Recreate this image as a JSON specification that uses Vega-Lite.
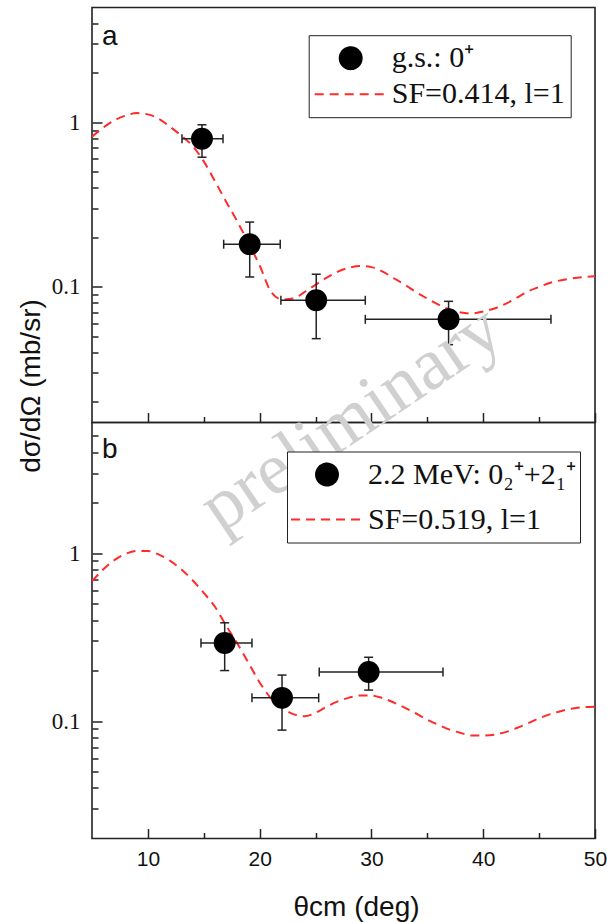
{
  "$schema": "https://vega.github.io/schema/vega-lite/v6.json",
  "padding": {"left": 16, "top": 6.5, "right": 4, "bottom": 0},
  "background": "white",
  "spacing": 0,
  "bounds": "flush",
  "resolve": {"scale": {"color": "independent", "shape": "independent", "size": "independent", "strokeDash": "independent"}},
  "config": {
    "view": {"stroke": "#222", "strokeWidth": 1.6},
    "axis": {"domain": false, "grid": false, "tickColor": "#222", "tickWidth": 1.5, "labelFlush": false, "labelOverlap": false},
    "concat": {"spacing": 0}
  },
  "datasets": {
    "curveA": [
      {"x": 5, "y": 0.82}, {"x": 6, "y": 0.93}, {"x": 7, "y": 1.03}, {"x": 8, "y": 1.10}, {"x": 9, "y": 1.14},
      {"x": 10, "y": 1.12}, {"x": 11, "y": 1.05}, {"x": 12, "y": 0.94}, {"x": 13, "y": 0.83}, {"x": 14, "y": 0.72},
      {"x": 15, "y": 0.58}, {"x": 16, "y": 0.44}, {"x": 17, "y": 0.33}, {"x": 18, "y": 0.25}, {"x": 19, "y": 0.185},
      {"x": 20, "y": 0.135}, {"x": 21, "y": 0.094}, {"x": 22, "y": 0.084}, {"x": 23, "y": 0.085}, {"x": 24, "y": 0.093},
      {"x": 25, "y": 0.103}, {"x": 26, "y": 0.114}, {"x": 27, "y": 0.124}, {"x": 28, "y": 0.131}, {"x": 29, "y": 0.134},
      {"x": 30, "y": 0.132}, {"x": 31, "y": 0.124}, {"x": 32, "y": 0.113}, {"x": 33, "y": 0.103}, {"x": 34, "y": 0.093},
      {"x": 35, "y": 0.085}, {"x": 36, "y": 0.078}, {"x": 37, "y": 0.073}, {"x": 38, "y": 0.070}, {"x": 39, "y": 0.069},
      {"x": 40, "y": 0.071}, {"x": 41, "y": 0.074}, {"x": 42, "y": 0.079}, {"x": 43, "y": 0.086}, {"x": 44, "y": 0.094},
      {"x": 45, "y": 0.100}, {"x": 46, "y": 0.106}, {"x": 47, "y": 0.110}, {"x": 48, "y": 0.113}, {"x": 49, "y": 0.115},
      {"x": 50, "y": 0.116}
    ],
    "ptsA": [
      {"x": 14.84, "y": 0.796, "xlo": 13.05, "xhi": 16.72, "ylo": 0.615, "yhi": 0.968},
      {"x": 19.11, "y": 0.182, "xlo": 16.78, "xhi": 21.84, "ylo": 0.115, "yhi": 0.248},
      {"x": 25.06, "y": 0.083, "xlo": 21.9, "xhi": 29.45, "ylo": 0.0485, "yhi": 0.1195},
      {"x": 36.9, "y": 0.0636, "xlo": 29.45, "xhi": 46.06, "ylo": 0.0446, "yhi": 0.0818}
    ],
    "curveB": [
      {"x": 5, "y": 0.68}, {"x": 6, "y": 0.80}, {"x": 7, "y": 0.91}, {"x": 8, "y": 0.99}, {"x": 9, "y": 1.03},
      {"x": 10, "y": 1.03}, {"x": 11, "y": 0.98}, {"x": 12, "y": 0.90}, {"x": 13, "y": 0.80}, {"x": 14, "y": 0.69},
      {"x": 15, "y": 0.58}, {"x": 16, "y": 0.48}, {"x": 17, "y": 0.37}, {"x": 18, "y": 0.29}, {"x": 19, "y": 0.222},
      {"x": 20, "y": 0.17}, {"x": 21, "y": 0.137}, {"x": 22, "y": 0.12}, {"x": 23, "y": 0.110}, {"x": 24, "y": 0.107},
      {"x": 25, "y": 0.112}, {"x": 26, "y": 0.122}, {"x": 27, "y": 0.131}, {"x": 28, "y": 0.138}, {"x": 29, "y": 0.142},
      {"x": 30, "y": 0.142}, {"x": 31, "y": 0.137}, {"x": 32, "y": 0.129}, {"x": 33, "y": 0.12}, {"x": 34, "y": 0.111},
      {"x": 35, "y": 0.102}, {"x": 36, "y": 0.095}, {"x": 37, "y": 0.089}, {"x": 38, "y": 0.085}, {"x": 39, "y": 0.082},
      {"x": 40, "y": 0.082}, {"x": 41, "y": 0.083}, {"x": 42, "y": 0.086}, {"x": 43, "y": 0.091}, {"x": 44, "y": 0.097},
      {"x": 45, "y": 0.104}, {"x": 46, "y": 0.110}, {"x": 47, "y": 0.115}, {"x": 48, "y": 0.119}, {"x": 49, "y": 0.121},
      {"x": 50, "y": 0.122}
    ],
    "ptsB": [
      {"x": 16.87, "y": 0.292, "xlo": 14.75, "xhi": 19.31, "ylo": 0.2, "yhi": 0.385},
      {"x": 22.0, "y": 0.1376, "xlo": 19.31, "xhi": 25.28, "ylo": 0.0884, "yhi": 0.188},
      {"x": 29.75, "y": 0.196, "xlo": 25.33, "xhi": 36.4, "ylo": 0.153, "yhi": 0.240}
    ]
  },
  "vconcat": [
    {
      "width": 503,
      "height": 415,
      "resolve": {"axis": {"x": "independent", "y": "independent"}},
      "layer": [
        {
          "data": {"name": "curveA"},
          "mark": {"type": "line", "strokeWidth": 2, "interpolate": "monotone"},
          "encoding": {
            "x": {"field": "x", "type": "quantitative", "scale": {"domain": [5, 50], "nice": false, "zero": false},
              "axis": {"orient": "bottom", "values": [10, 20, 30, 40, 50], "labels": false, "tickSize": -10, "title": null}},
            "y": {"field": "y", "type": "quantitative", "scale": {"type": "log", "domain": [0.015, 5], "nice": false},
              "axis": {"orient": "left", "values": [0.1, 1], "format": "~g", "tickSize": -10, "labelPadding": 22,
                "labelFont": "Liberation Serif", "labelFontSize": 23, "labelColor": "#111",
                "title": "dσ/dΩ (mb/sr)", "titleX": -61, "titleY": 378, "titleAngle": -90, "titleAlign": "center",
                "titleBaseline": "middle", "titleFont": "Liberation Sans", "titleFontSize": 28, "titleFontWeight": "normal", "titleColor": "#111"}},
            "color": {"datum": "SF=0.414, l=1", "type": "nominal",
              "scale": {"domain": ["g.s.: 0⁺", "SF=0.414, l=1"], "range": ["black", "#ff2a2a"]},
              "legend": {"orient": "none", "legendX": 216.7, "legendY": 27.7, "title": null,
                "symbolStrokeWidth": 2,
                "labelFont": "Liberation Serif", "labelFontSize": 30, "labelColor": "#111", "labelLimit": 400, "labelOffset": 4,
                "strokeColor": "#222", "fillColor": "white", "padding": 5, "clipHeight": 36, "rowPadding": 0}},
            "strokeDash": {"datum": "SF=0.414, l=1", "type": "nominal",
              "scale": {"domain": ["g.s.: 0⁺", "SF=0.414, l=1"], "range": [[1, 0], [9, 6]]}, "legend": {"title": null}}
          }
        },
        {
          "data": {"name": "ptsA"},
          "mark": {"type": "rule", "strokeWidth": 1.5, "color": "#222"},
          "encoding": {
            "x": {"field": "xlo", "type": "quantitative", "axis": null},
            "x2": {"field": "xhi"},
            "y": {"field": "y", "type": "quantitative", "axis": null}
          }
        },
        {
          "data": {"name": "ptsA"},
          "mark": {"type": "rule", "strokeWidth": 1.5, "color": "#222"},
          "encoding": {
            "x": {"field": "x", "type": "quantitative", "axis": null},
            "y": {"field": "ylo", "type": "quantitative", "axis": null},
            "y2": {"field": "yhi"}
          }
        },
        {
          "data": {"name": "ptsA"},
          "mark": {"type": "point", "shape": "M0,-1L0,1", "size": 81, "filled": false, "strokeWidth": 1.5, "color": "#222", "opacity": 1},
          "encoding": {
            "x": {"field": "xlo", "type": "quantitative", "axis": null},
            "y": {"field": "y", "type": "quantitative", "axis": null}
          }
        },
        {
          "data": {"name": "ptsA"},
          "mark": {"type": "point", "shape": "M0,-1L0,1", "size": 81, "filled": false, "strokeWidth": 1.5, "color": "#222", "opacity": 1},
          "encoding": {
            "x": {"field": "xhi", "type": "quantitative", "axis": null},
            "y": {"field": "y", "type": "quantitative", "axis": null}
          }
        },
        {
          "data": {"name": "ptsA"},
          "mark": {"type": "point", "shape": "M-1,0L1,0", "size": 81, "filled": false, "strokeWidth": 1.5, "color": "#222", "opacity": 1},
          "encoding": {
            "x": {"field": "x", "type": "quantitative", "axis": null},
            "y": {"field": "ylo", "type": "quantitative", "axis": null}
          }
        },
        {
          "data": {"name": "ptsA"},
          "mark": {"type": "point", "shape": "M-1,0L1,0", "size": 81, "filled": false, "strokeWidth": 1.5, "color": "#222", "opacity": 1},
          "encoding": {
            "x": {"field": "x", "type": "quantitative", "axis": null},
            "y": {"field": "yhi", "type": "quantitative", "axis": null}
          }
        },
        {
          "data": {"name": "ptsA"},
          "mark": {"type": "point", "filled": true, "opacity": 1},
          "encoding": {
            "x": {"field": "x", "type": "quantitative",
              "axis": {"orient": "bottom", "values": [15, 25, 35, 45], "labels": false, "tickSize": -6, "title": null}},
            "y": {"field": "y", "type": "quantitative",
              "axis": {"orient": "left", "values": [0.02, 0.03, 0.04, 0.05, 0.06, 0.07, 0.08, 0.09, 0.2, 0.3, 0.4, 0.5, 0.6, 0.7, 0.8, 0.9, 2, 3, 4], "labels": false, "tickSize": -6, "title": null}},
            "color": {"datum": "g.s.: 0⁺", "type": "nominal"},
            "shape": {"datum": "g.s.: 0⁺", "type": "nominal",
              "scale": {"domain": ["g.s.: 0⁺", "SF=0.414, l=1"], "range": ["circle", "stroke"]}, "legend": {"title": null}},
            "size": {"datum": "g.s.: 0⁺", "type": "nominal",
              "scale": {"domain": ["g.s.: 0⁺", "SF=0.414, l=1"], "range": [480, 5184]}, "legend": {"title": null}},
            "strokeDash": {"datum": "g.s.: 0⁺", "type": "nominal"}
          }
        },
        {
          "data": {"values": [{"label": "a"}]},
          "mark": {"type": "text", "font": "Liberation Sans", "fontSize": 28, "align": "left", "baseline": "middle", "color": "#111"},
          "encoding": {
            "x": {"datum": 5.9, "type": "quantitative", "axis": null},
            "y": {"datum": 3.3, "type": "quantitative", "axis": null},
            "text": {"field": "label"}
          }
        }
      ]
    },
    {
      "width": 503,
      "height": 416,
      "resolve": {"axis": {"x": "independent", "y": "independent"}},
      "layer": [
        {
          "data": {"values": [{"label": "preliminary"}]},
          "mark": {"type": "text", "font": "Liberation Serif", "fontSize": 74, "align": "center", "baseline": "middle", "angle": -34, "color": "#d0d0d0"},
          "encoding": {
            "x": {"datum": 28.2, "type": "quantitative", "axis": null},
            "y": {"datum": 6.3, "type": "quantitative", "axis": null},
            "text": {"field": "label"}
          }
        },
        {
          "data": {"name": "curveB"},
          "mark": {"type": "line", "strokeWidth": 2, "interpolate": "monotone"},
          "encoding": {
            "x": {"field": "x", "type": "quantitative", "scale": {"domain": [5, 50], "nice": false, "zero": false},
              "axis": {"orient": "bottom", "values": [10, 20, 30, 40, 50], "format": "d", "tickSize": -10, "labelPadding": 20,
                "labelFont": "Liberation Sans", "labelFontSize": 21, "labelColor": "#111",
                "title": "θcm (deg)", "titleX": 264, "titleY": 77, "titleAlign": "center", "titleBaseline": "alphabetic",
                "titleFont": "Liberation Sans", "titleFontSize": 28, "titleFontWeight": "normal", "titleColor": "#111"}},
            "y": {"field": "y", "type": "quantitative", "scale": {"type": "log", "domain": [0.02, 6], "nice": false},
              "axis": {"orient": "left", "values": [0.1, 1], "format": "~g", "tickSize": -10, "labelPadding": 22,
                "labelFont": "Liberation Serif", "labelFontSize": 23, "labelColor": "#111", "title": null}},
            "color": {"datum": "SF=0.519, l=1", "type": "nominal",
              "scale": {"domain": ["2.2 MeV: 0₂⁺+2₁⁺", "SF=0.519, l=1"], "range": ["black", "#ff2a2a"]},
              "legend": {"orient": "none", "legendX": 195, "legendY": 29, "title": null,
                "symbolStrokeWidth": 2,
                "labelFont": "Liberation Serif", "labelFontSize": 30, "labelColor": "#111", "labelLimit": 400, "labelOffset": 4,
                "strokeColor": "#222", "fillColor": "white", "padding": 3, "clipHeight": 40, "rowPadding": 5}},
            "strokeDash": {"datum": "SF=0.519, l=1", "type": "nominal",
              "scale": {"domain": ["2.2 MeV: 0₂⁺+2₁⁺", "SF=0.519, l=1"], "range": [[1, 0], [9, 6]]}, "legend": {"title": null}}
          }
        },
        {
          "data": {"name": "ptsB"},
          "mark": {"type": "rule", "strokeWidth": 1.5, "color": "#222"},
          "encoding": {
            "x": {"field": "xlo", "type": "quantitative", "axis": null},
            "x2": {"field": "xhi"},
            "y": {"field": "y", "type": "quantitative", "axis": null}
          }
        },
        {
          "data": {"name": "ptsB"},
          "mark": {"type": "rule", "strokeWidth": 1.5, "color": "#222"},
          "encoding": {
            "x": {"field": "x", "type": "quantitative", "axis": null},
            "y": {"field": "ylo", "type": "quantitative", "axis": null},
            "y2": {"field": "yhi"}
          }
        },
        {
          "data": {"name": "ptsB"},
          "mark": {"type": "point", "shape": "M0,-1L0,1", "size": 81, "filled": false, "strokeWidth": 1.5, "color": "#222", "opacity": 1},
          "encoding": {
            "x": {"field": "xlo", "type": "quantitative", "axis": null},
            "y": {"field": "y", "type": "quantitative", "axis": null}
          }
        },
        {
          "data": {"name": "ptsB"},
          "mark": {"type": "point", "shape": "M0,-1L0,1", "size": 81, "filled": false, "strokeWidth": 1.5, "color": "#222", "opacity": 1},
          "encoding": {
            "x": {"field": "xhi", "type": "quantitative", "axis": null},
            "y": {"field": "y", "type": "quantitative", "axis": null}
          }
        },
        {
          "data": {"name": "ptsB"},
          "mark": {"type": "point", "shape": "M-1,0L1,0", "size": 81, "filled": false, "strokeWidth": 1.5, "color": "#222", "opacity": 1},
          "encoding": {
            "x": {"field": "x", "type": "quantitative", "axis": null},
            "y": {"field": "ylo", "type": "quantitative", "axis": null}
          }
        },
        {
          "data": {"name": "ptsB"},
          "mark": {"type": "point", "shape": "M-1,0L1,0", "size": 81, "filled": false, "strokeWidth": 1.5, "color": "#222", "opacity": 1},
          "encoding": {
            "x": {"field": "x", "type": "quantitative", "axis": null},
            "y": {"field": "yhi", "type": "quantitative", "axis": null}
          }
        },
        {
          "data": {"name": "ptsB"},
          "mark": {"type": "point", "filled": true, "opacity": 1},
          "encoding": {
            "x": {"field": "x", "type": "quantitative",
              "axis": {"orient": "bottom", "values": [15, 25, 35, 45], "labels": false, "tickSize": -6, "title": null}},
            "y": {"field": "y", "type": "quantitative",
              "axis": {"orient": "left", "values": [0.03, 0.04, 0.05, 0.06, 0.07, 0.08, 0.09, 0.2, 0.3, 0.4, 0.5, 0.6, 0.7, 0.8, 0.9, 2, 3, 4, 5], "labels": false, "tickSize": -6, "title": null}},
            "color": {"datum": "2.2 MeV: 0₂⁺+2₁⁺", "type": "nominal"},
            "shape": {"datum": "2.2 MeV: 0₂⁺+2₁⁺", "type": "nominal",
              "scale": {"domain": ["2.2 MeV: 0₂⁺+2₁⁺", "SF=0.519, l=1"], "range": ["circle", "stroke"]}, "legend": {"title": null}},
            "size": {"datum": "2.2 MeV: 0₂⁺+2₁⁺", "type": "nominal",
              "scale": {"domain": ["2.2 MeV: 0₂⁺+2₁⁺", "SF=0.519, l=1"], "range": [480, 5184]}, "legend": {"title": null}},
            "strokeDash": {"datum": "2.2 MeV: 0₂⁺+2₁⁺", "type": "nominal"}
          }
        },
        {
          "data": {"values": [{"label": "b"}]},
          "mark": {"type": "text", "font": "Liberation Sans", "fontSize": 28, "align": "left", "baseline": "middle", "color": "#111"},
          "encoding": {
            "x": {"datum": 5.9, "type": "quantitative", "axis": null},
            "y": {"datum": 4.1, "type": "quantitative", "axis": null},
            "text": {"field": "label"}
          }
        }
      ]
    }
  ]
}
